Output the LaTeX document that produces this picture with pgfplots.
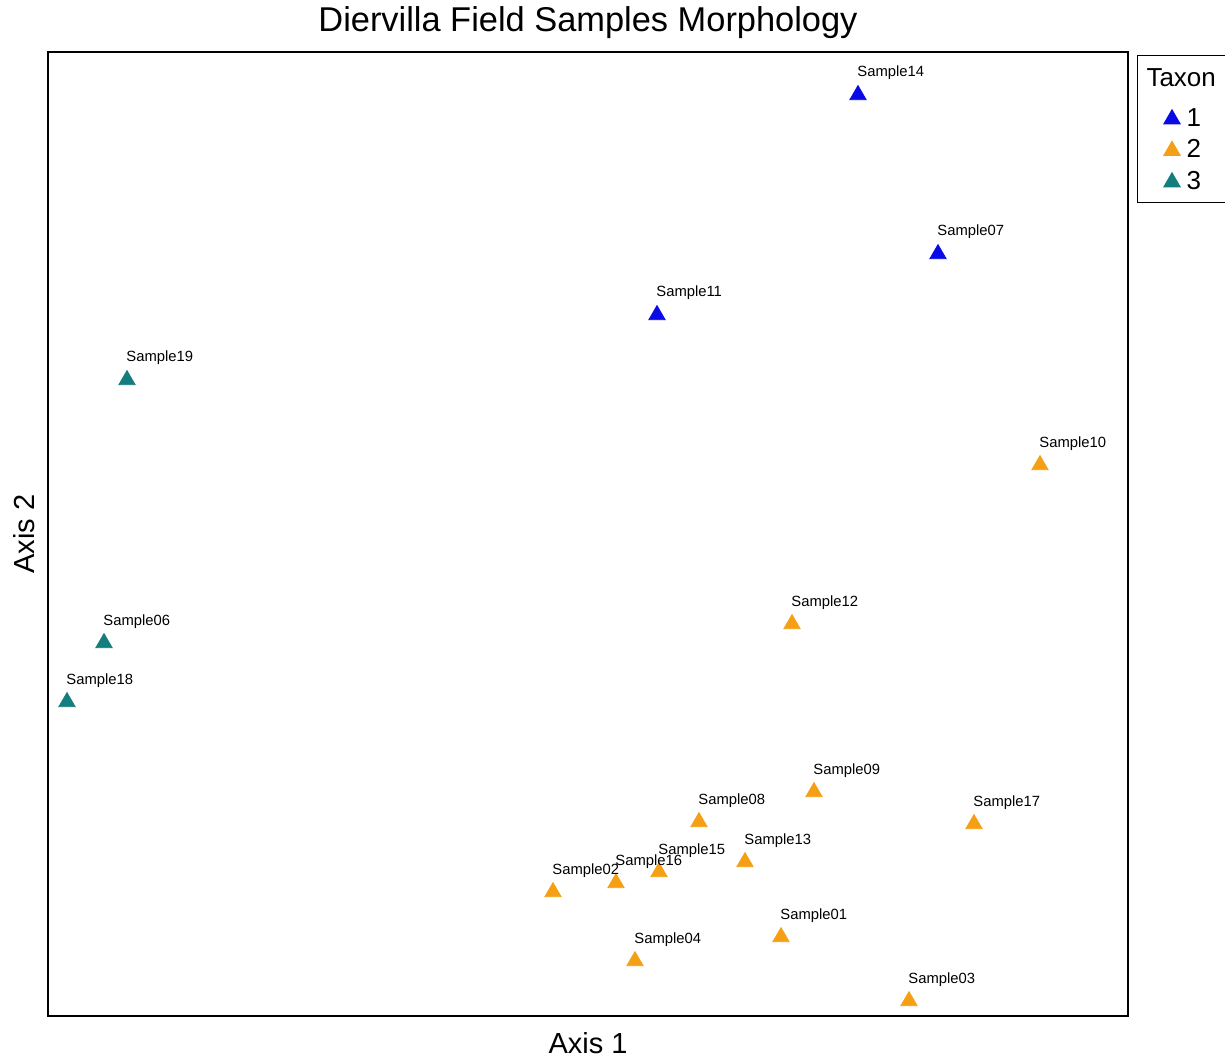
\documentclass[border=0pt]{standalone}
\usepackage{pgfplots}
\pgfplotsset{compat=1.18}
\usepackage{fontspec}
\setmainfont{Liberation Sans}
\definecolor{tblue}{RGB}{10,10,230}
\definecolor{torange}{RGB}{245,160,20}
\definecolor{tteal}{RGB}{20,125,125}
\begin{document}
\begin{tikzpicture}
\path[use as bounding box] (-24pt,-20.5pt) rectangle (588.5pt,508pt);
\begin{axis}[
  at={(0pt,0pt)}, anchor=south west,
  scale only axis, width=540pt, height=482pt,
  xmin=48, xmax=1128, ymin=41, ymax=1005,
  xtick=\empty, ytick=\empty,
  axis line style={line width=1pt},
  title={Diervilla Field Samples Morphology},
  title style={at={(axis description cs:0.5,1)}, anchor=base, yshift=4pt, inner sep=0pt, font=\fontsize{17.2}{20}\selectfont},
  xlabel={Axis 1},
  xlabel style={at={(axis description cs:0.5,0)}, anchor=north, yshift=-8pt, inner sep=0pt, font=\fontsize{14.5}{17}\selectfont},
  ylabel={Axis 2},
  ylabel style={at={([xshift=-6.5pt]axis description cs:0,0.5)}, anchor=base, rotate=0, inner sep=0pt, font=\fontsize{14.5}{17}\selectfont},
  legend style={at={(axis description cs:1,1)}, anchor=north west, xshift=4.5pt, yshift=-1.5pt,
    draw=black, line width=0.5pt, font=\fontsize{13}{15}\selectfont, inner sep=2.5pt,
    nodes={inner sep=1.5pt, text height=10pt, text depth=2.75pt}},
  legend cell align=left,
  legend image code/.code={\path (0pt,0pt) (20pt,0pt); \draw[#1, mark size=4.7pt] plot coordinates {(14.5pt,0pt)};},
  every node near coord/.append style={anchor=base west, font=\fontsize{7.4}{8}\selectfont, text=black, inner sep=0pt, xshift=-0.5pt, yshift=9pt},
  clip=false,
]
\addlegendimage{empty legend}
\addlegendentry[text height=11.5pt, text depth=7pt]{\hspace{-20pt}Taxon\kern10pt\mbox{}}
\addplot[only marks, mark=triangle*, mark size=4.7pt, color=tblue, nodes near coords, point meta=explicit symbolic]
  table[meta=label] {
x y label
858 962 Sample14
938 803 Sample07
657 742 Sample11
};
\addlegendentry{1}
\addplot[only marks, mark=triangle*, mark size=4.7pt, color=torange, nodes near coords, point meta=explicit symbolic]
  table[meta=label] {
x y label
1040 592 Sample10
792 433 Sample12
814 265 Sample09
699 235 Sample08
974 233 Sample17
745 195 Sample13
659 185 Sample15
616 174 Sample16
553 165 Sample02
781 120 Sample01
635 96 Sample04
909 56 Sample03
};
\addlegendentry{2}
\addplot[only marks, mark=triangle*, mark size=4.7pt, color=tteal, nodes near coords, point meta=explicit symbolic]
  table[meta=label] {
x y label
127 677 Sample19
104 414 Sample06
67 355 Sample18
};
\addlegendentry{3}
\end{axis}
\end{tikzpicture}
\end{document}
